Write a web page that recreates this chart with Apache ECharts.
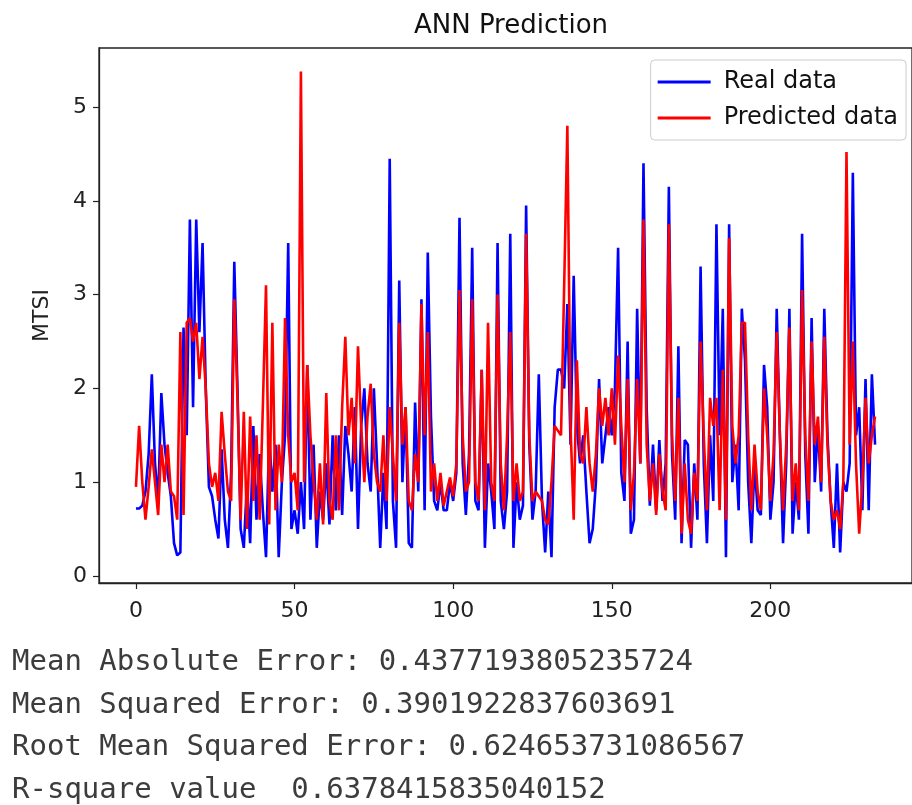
<!DOCTYPE html>
<html>
<head>
<meta charset="utf-8">
<script src="https://cdn.jsdelivr.net/npm/echarts@6/dist/echarts.min.js"></script>
<style>html,body{margin:0;padding:0;background:#fff;}#c{width:912px;height:805px;}</style>
</head>
<body>
<div id="c"></div>
<script>
const realData = [
0.72,0.72,0.75,0.9,1.3,2.15,1.2,0.8,1.95,1.4,
1.1,0.85,0.35,0.22,0.25,2.65,1.5,3.8,1.8,3.8,
2.6,3.55,2.0,0.95,0.85,0.6,0.4,1.35,0.6,0.3,
1.1,3.35,2.0,0.5,0.3,1.0,0.35,1.6,0.6,1.3,
0.7,0.2,1.5,0.9,1.4,0.2,1.0,1.5,3.55,0.5,
0.7,0.45,1.0,0.5,2.25,0.6,1.4,0.3,0.9,0.6,
1.2,0.55,1.5,0.7,1.5,0.65,1.6,1.3,0.9,1.8,
0.5,1.6,2.0,1.2,0.9,2.0,1.2,0.3,1.1,0.5,
4.45,0.8,0.3,3.15,1.0,1.8,0.35,0.3,1.85,0.9,
2.95,0.7,3.45,1.7,0.8,0.7,1.0,0.7,0.7,1.0,
0.8,1.1,3.82,1.2,0.65,1.3,3.5,0.8,0.7,2.2,
0.3,1.2,0.9,0.5,3.55,0.8,0.5,0.9,3.65,0.3,
1.0,0.6,0.75,3.95,1.4,0.6,0.9,2.15,0.8,0.25,
0.9,0.2,1.8,2.2,2.2,2.0,2.9,1.4,3.2,1.6,
1.2,1.5,0.9,0.35,0.5,1.0,2.1,1.2,1.5,1.8,
1.5,2.0,3.5,1.1,0.8,2.5,0.45,0.6,2.85,1.2,
4.4,1.8,0.75,1.4,0.7,1.45,0.8,1.2,4.15,1.3,
0.6,2.45,0.35,1.45,1.4,0.3,1.2,0.6,3.3,1.2,
0.35,1.5,0.8,3.75,1.5,2.85,0.2,3.75,1.0,1.4,
0.7,2.85,2.3,1.0,0.35,1.2,0.7,0.65,2.25,1.8,
0.6,1.0,2.85,1.5,0.35,1.2,2.85,0.45,1.0,0.6,
3.65,1.3,0.45,2.75,1.0,1.6,0.9,2.85,1.5,0.8,
0.3,1.2,0.25,1.0,0.9,1.2,4.3,1.5,1.8,0.7,
2.1,0.7,2.15,1.4
];
const predictedData = [
0.95,1.6,1.0,0.6,0.95,1.35,1.0,0.65,1.4,1.0,
1.4,0.9,0.85,0.6,2.6,0.65,2.7,2.75,2.5,2.7,
2.1,2.55,2.0,1.2,0.95,1.1,0.8,1.75,1.3,0.9,
0.8,2.95,1.9,0.6,1.75,0.5,1.7,0.8,1.5,0.6,
1.8,3.1,0.55,2.7,0.7,1.4,1.0,2.75,1.5,1.0,
1.1,0.7,5.38,1.0,2.25,1.5,1.0,0.6,1.2,0.55,
1.95,0.8,0.6,1.5,0.7,1.8,2.55,1.5,1.9,1.2,
2.45,1.6,1.0,1.7,2.05,1.3,1.0,0.9,1.5,0.8,
1.8,1.3,0.8,2.7,1.4,1.8,0.8,0.7,1.3,1.0,
2.9,1.5,2.6,0.9,1.2,0.8,1.1,0.75,0.9,1.05,
0.85,1.2,3.05,1.5,0.9,1.0,2.95,1.0,0.8,2.2,
0.7,2.7,1.0,0.8,3.0,1.2,0.7,1.5,2.6,0.8,
1.2,0.8,0.9,3.65,1.5,0.8,0.9,0.85,0.8,0.6,
0.55,1.0,1.6,1.55,1.5,3.1,4.8,1.6,0.6,2.3,
1.3,1.2,1.8,1.2,0.9,1.3,2.0,1.6,1.9,1.5,
2.0,1.4,2.35,1.6,1.0,2.1,0.7,1.1,2.1,1.2,
3.8,1.4,0.8,1.2,0.65,1.3,0.9,0.7,3.75,1.5,
0.8,1.9,0.45,1.2,0.6,0.45,1.1,0.8,2.5,1.5,
0.7,1.9,1.6,1.9,0.7,2.2,0.6,3.6,1.6,1.2,
1.5,2.7,2.7,1.5,0.7,1.4,0.9,0.7,2.0,1.5,
0.8,1.3,2.6,1.5,0.7,1.4,2.65,0.8,1.2,0.7,
3.05,1.5,0.8,2.5,1.4,1.7,1.0,2.55,1.4,0.8,
0.6,0.7,0.5,1.0,4.52,1.4,2.5,1.2,0.45,1.0,
1.9,1.2,1.5,1.7
];
const xTicks = [0, 50, 100, 150, 200];
const yTicks = [0, 1, 2, 3, 4, 5];
const metricLines = [
  'Mean Absolute Error: 0.4377193805235724',
  'Mean Squared Error: 0.3901922837603691',
  'Root Mean Squared Error: 0.624653731086567',
  'R-square value  0.6378415835040152'
];

const chart = echarts.init(document.getElementById('c'), null, {renderer: 'canvas'});
const toPairs = arr => arr.map((v, i) => [i, v]);
const tickFont = {fontFamily: 'DejaVu Sans', fontSize: 22, color: '#222'};

chart.setOption({
  animation: false,
  backgroundColor: '#fff',
  title: {
    text: 'ANN Prediction',
    left: 506, top: 8, textAlign: 'center',
    textStyle: {fontFamily: 'DejaVu Sans', fontSize: 26, fontWeight: 'normal', color: '#111'}
  },
  grid: {
    left: 99, top: 48, width: 819, height: 535,
    show: true, borderColor: '#222', borderWidth: 1.3, backgroundColor: '#fff'
  },
  legend: {
    orient: 'vertical', right: 6, top: 60,
    data: ['Real data', 'Predicted data'],
    icon: 'rect', itemWidth: 53, itemHeight: 3, itemGap: 12,
    padding: [10, 8, 10, 7],
    backgroundColor: 'rgba(255,255,255,0.85)', borderColor: '#ccc', borderWidth: 1, borderRadius: 4,
    textStyle: {fontFamily: 'DejaVu Sans', fontSize: 24, color: '#111', padding: [0, 0, 0, 8]}
  },
  xAxis: {
    type: 'value', min: -11.65, max: 244.65,
    splitLine: {show: false},
    axisLine: {show: true, onZero: false, lineStyle: {color: '#222', width: 1.3}},
    axisTick: {show: true, length: 6, customValues: xTicks, lineStyle: {color: '#222', width: 1.2}},
    axisLabel: Object.assign({customValues: xTicks, margin: 17}, tickFont)
  },
  yAxis: {
    type: 'value', min: -0.075, max: 5.63,
    name: 'MTSI', nameLocation: 'middle', nameRotate: 90, nameGap: 46,
    nameTextStyle: {fontFamily: 'DejaVu Sans', fontSize: 22, color: '#222'},
    splitLine: {show: false},
    axisLine: {show: true, onZero: false, lineStyle: {color: '#222', width: 1.3}},
    axisTick: {show: true, length: 6, customValues: yTicks, lineStyle: {color: '#222', width: 1.2}},
    axisLabel: Object.assign({customValues: yTicks, margin: 12}, tickFont)
  },
  series: [
    {name: 'Real data', type: 'line', data: toPairs(realData), showSymbol: false,
     color: '#0000ff', lineStyle: {color: '#0000ff', width: 2.6}, z: 2},
    {name: 'Predicted data', type: 'line', data: toPairs(predictedData), showSymbol: false,
     color: '#ff0000', lineStyle: {color: '#ff0000', width: 2.6}, z: 3}
  ],
  graphic: metricLines.map((t, i) => ({
    type: 'text', left: 12, top: 648 + i * 42.5,
    style: {text: t, fontFamily: 'DejaVu Sans Mono', fontSize: 29, fill: '#3c3c3c'}
  }))
});
</script>
</body>
</html>
